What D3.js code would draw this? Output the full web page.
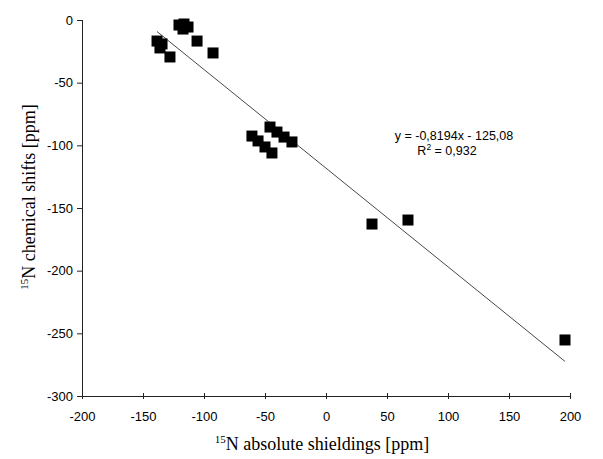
<!DOCTYPE html>
<html>
<head>
<meta charset="utf-8">
<script src="https://cdn.jsdelivr.net/npm/d3@7"></script>
<style>
  body { margin: 0; background: #fff; }
  svg { display: block; }
  .tick text { font-family: Arial, "Liberation Sans", sans-serif; font-size: 13px; fill: #000; }
  .title { font-family: "Times New Roman", "Liberation Serif", serif; font-size: 18px; fill: #000; }
  .eq { font-family: Arial, "Liberation Sans", sans-serif; font-size: 12.5px; fill: #000; }
</style>
</head>
<body>
<svg id="chart" width="603" height="459"></svg>
<script>
"use strict";

// values: 15N absolute shieldings (x) vs chemical shifts (y)
var shieldings = [-138.5, -134.4, -136.1, -127.9, -120.5, -116.4, -113.1, -117.2, -105.7, -92.6,
                  -60.7, -55.7, -50.0, -44.3, -45.9, -40.2, -34.4, -27.9,
                  37.7, 67.2, 195.9];
var shifts = [-16.8, -19.1, -22.3, -29.5, -4.0, -3.2, -5.6, -7.2, -16.8, -26.3,
              -92.6, -96.5, -101.3, -106.1, -85.4, -89.4, -93.4, -97.3,
              -162.8, -159.6, -255.3];

var xTicks = [-200, -150, -100, -50, 0, 50, 100, 150, 200];
var yTicks = [0, -50, -100, -150, -200, -250, -300];
var equationText = ['y = -0,8194x - 125,08', 'R', '2', ' = 0,932'];

var svg = d3.select('#chart');
var plotLeft = 82, plotRight = 570, plotTop = 20, plotBottom = 396;

var x = d3.scaleLinear().domain([-200, 200]).range([plotLeft, plotRight]);
var y = d3.scaleLinear().domain([-300, 0]).range([plotBottom, plotTop]);

var points = shieldings.map((v, i) => ({ x: v, y: shifts[i] }));

// plain hyphen minus like the original, not the unicode minus d3.format gives
var fmt = d => String(d);

// y axis, ticks outside
var yAxis = svg.append('g')
  .attr('transform', 'translate(' + plotLeft + ',0)')
  .call(d3.axisLeft(y).tickValues(yTicks).tickSize(5).tickPadding(4).tickFormat(fmt));

// x axis at y = -300, ticks crossing the line
var xAxis = svg.append('g')
  .attr('transform', 'translate(0,' + plotBottom + ')')
  .call(d3.axisBottom(x).tickValues(xTicks).tickSize(0).tickPadding(16).tickFormat(fmt));
xAxis.selectAll('.tick line').attr('y1', -3).attr('y2', 3);

svg.selectAll('.domain').attr('stroke', '#222').attr('stroke-width', 1);
svg.selectAll('.tick line').attr('stroke', '#222');
yAxis.selectAll('.domain').attr('d', 'M0.5,' + plotTop + 'V' + plotBottom);
xAxis.selectAll('.domain').attr('d', 'M' + plotLeft + ',0.5H' + plotRight);

// least squares trendline over the data range
var mx = d3.mean(shieldings), my = d3.mean(shifts);
var slope = d3.sum(points, p => (p.x - mx) * (p.y - my)) / d3.sum(points, p => (p.x - mx) * (p.x - mx));
var icpt = my - slope * mx;
var ext = d3.extent(shieldings);

svg.append('line')
  .attr('x1', x(ext[0])).attr('y1', y(slope * ext[0] + icpt))
  .attr('x2', x(ext[1])).attr('y2', y(slope * ext[1] + icpt))
  .attr('stroke', '#333')
  .attr('stroke-width', 0.9);

// square markers
var size = 11;
svg.append('g')
  .selectAll('rect')
  .data(points)
  .enter()
  .append('rect')
  .attr('x', d => x(d.x) - size / 2)
  .attr('y', d => y(d.y) - size / 2)
  .attr('width', size)
  .attr('height', size)
  .attr('fill', '#000');

// regression label
svg.append('text').attr('class', 'eq')
  .attr('x', 454).attr('y', 140).attr('text-anchor', 'middle')
  .text(equationText[0]);
var r2 = svg.append('text').attr('class', 'eq')
  .attr('x', 447).attr('y', 155).attr('text-anchor', 'middle');
r2.append('tspan').text(equationText[1]);
r2.append('tspan').attr('dy', -5).attr('font-size', '8.5px').text(equationText[2]);
r2.append('tspan').attr('dy', 5).text(equationText[3]);

// axis titles with superscript mass number
var xt = svg.append('text').attr('class', 'title')
  .attr('x', 322).attr('y', 450).attr('text-anchor', 'middle');
xt.append('tspan').attr('font-size', '11px').attr('dy', -7).text('15');
xt.append('tspan').attr('dy', 7).text('N absolute shieldings [ppm]');

var yt = svg.append('text').attr('class', 'title')
  .attr('transform', 'translate(35,197) rotate(-90)')
  .attr('text-anchor', 'middle');
yt.append('tspan').attr('font-size', '11px').attr('dy', -7).text('15');
yt.append('tspan').attr('dy', 7).text('N chemical shifts [ppm]');
</script>
</body>
</html>
